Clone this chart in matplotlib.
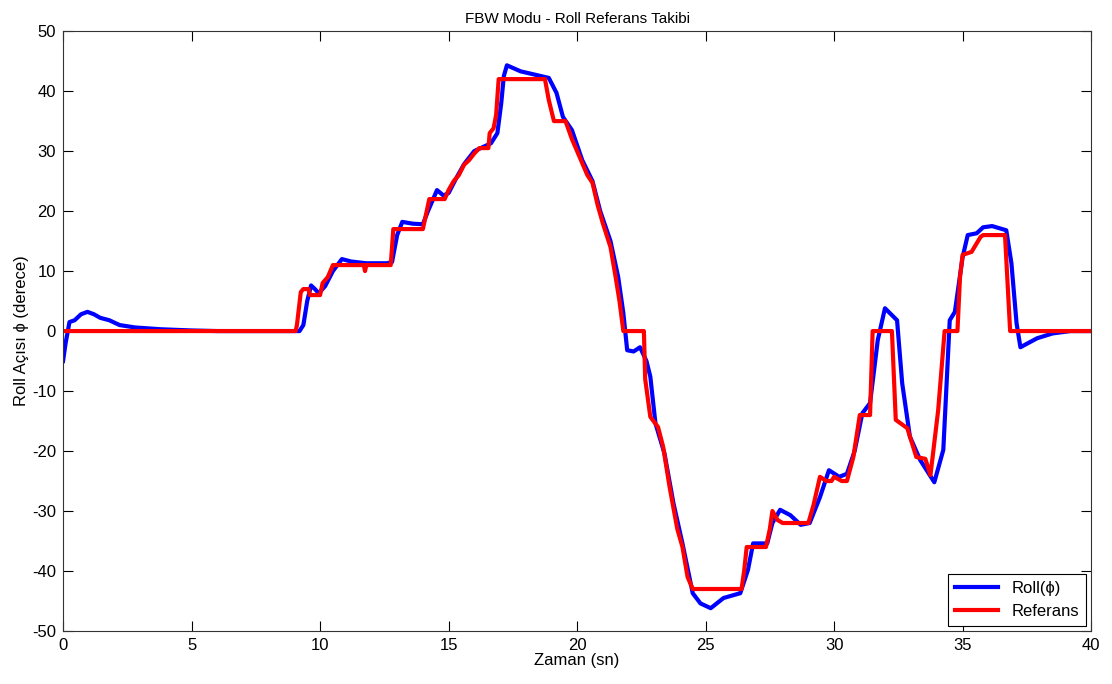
import matplotlib
matplotlib.use("Agg")
import matplotlib.pyplot as plt

plt.rcParams['font.family'] = ['Liberation Sans', 'DejaVu Sans']
plt.rcParams['font.size'] = 11
plt.rcParams['axes.unicode_minus'] = False

# referans (red) step signal
ref_t = [0, 9.05, 9.1, 9.25, 9.35, 9.55, 9.6, 10.0, 10.1, 10.3, 10.5, 11.7, 11.75, 11.8,
         12.75, 12.85, 14.0, 14.1, 14.25, 14.85, 15.0, 15.2, 15.4, 15.6, 15.8, 16.0, 16.2,
         16.55, 16.6, 16.75, 16.85, 16.95, 18.75, 18.9, 19.1, 19.55, 19.8, 20.0, 20.2, 20.4,
         20.6, 20.8, 21.0, 21.3, 21.5, 21.65, 21.8, 22.6, 22.65, 22.85, 23.15, 23.35, 23.6,
         23.9, 24.1, 24.3, 24.5, 26.4, 26.5, 26.6, 27.35, 27.5, 27.6, 27.8, 28.0, 29.0, 29.2,
         29.45, 29.7, 29.9, 30.0, 30.3, 30.5, 30.75, 31.0, 31.4, 31.5, 32.25, 32.4, 32.85,
         33.2, 33.55, 33.75, 34.05, 34.3, 34.8, 34.9, 35.0, 35.35, 35.7, 35.8, 36.65, 36.85, 40]
ref_y = [0, 0, 1, 6.5, 7, 7, 6, 6, 8, 9, 11, 11, 10, 11,
         11, 17, 17, 19, 22, 22, 23.5, 25, 26, 27.7, 28.5, 29.6, 30.5,
         30.5, 33, 33.8, 36, 42, 42, 38.5, 35, 35, 32, 30, 28, 26,
         24.7, 21, 18, 14, 9, 5, 0, 0, -8, -14.3, -16, -19.3, -26,
         -33, -36, -41, -43, -43, -40, -36, -36, -33, -30, -31.5, -32, -32, -29,
         -24.3, -25, -25, -24.3, -25, -25, -21, -14, -14, 0, 0, -14.8, -16.2,
         -21, -21.3, -24, -13.2, 0, 0, 9, 12.7, 13.2, 15.7, 16, 16, 0, 0]

# roll response (blue)
roll_t = [0, 0.1, 0.25, 0.45, 0.7, 0.95, 1.2, 1.45, 1.8, 2.2, 2.8, 3.8, 5, 6, 7, 8, 9.2,
          9.35, 9.5, 9.65, 9.8, 9.95, 10.2, 10.5, 10.85, 11.2, 11.8, 12.6, 12.8, 13.0, 13.2,
          13.6, 14.0, 14.2, 14.55, 14.8, 15.0, 15.3, 15.6, 16.0, 16.35, 16.65, 16.9, 17.05,
          17.15, 17.27, 17.8, 18.4, 18.9, 19.2, 19.45, 19.8, 20.2, 20.6, 20.9, 21.3, 21.6,
          21.8, 21.95, 22.2, 22.45, 22.7, 22.85, 23.05, 23.4, 23.75, 24.1, 24.5, 24.8, 25.2,
          25.7, 26.35, 26.65, 26.85, 27.4, 27.6, 27.9, 28.3, 28.7, 29.05, 29.45, 29.8, 30.2,
          30.5, 30.8, 31.1, 31.4, 31.7, 31.98, 32.45, 32.65, 32.95, 33.35, 33.9, 34.25, 34.5,
          34.7, 35.0, 35.2, 35.55, 35.8, 36.15, 36.7, 36.9, 37.1, 37.25, 37.9, 38.5, 39.2, 40]
roll_y = [-5, -2, 1.5, 1.8, 2.8, 3.2, 2.8, 2.2, 1.8, 1.0, 0.6, 0.3, 0.1, 0, 0, 0, 0,
          1, 5, 7.6, 7, 6.3, 7.5, 10, 12, 11.6, 11.3, 11.3, 11.5, 16, 18.2,
          17.9, 17.8, 20, 23.5, 22.6, 23, 25.5, 27.8, 30, 30.7, 31.3, 33, 38,
          42.5, 44.3, 43.3, 42.7, 42.2, 39.7, 35.7, 33.5, 28.5, 25, 20, 15, 9,
          3, -3.2, -3.4, -2.7, -5, -7.6, -15.4, -20.4, -28.7, -35.4, -43.7, -45.4, -46.2,
          -44.5, -43.7, -39.8, -35.4, -35.4, -32, -29.8, -30.7, -32.3, -32, -27.7, -23.2, -24.3,
          -23.8, -20, -13.7, -12, -1.5, 3.8, 1.8, -8.7, -17.6, -21.5, -25.2, -19.8, 1.8,
          3.2, 12.3, 16, 16.3, 17.3, 17.5, 16.8, 11.3, 1.3, -2.7, -1.2, -0.4, 0, 0]

fig = plt.figure(figsize=(11.12, 6.84), dpi=100)
ax = fig.add_axes([0.0567, 0.0775, 0.9245, 0.877])

ax.plot(roll_t, roll_y, color=(0, 0, 1), lw=3, label='Roll(ϕ)')
ax.plot(ref_t, ref_y, color=(1, 0, 0), lw=3, label='Referans')

ax.set_xlim(0, 40)
ax.set_ylim(-50, 50)
ax.set_xticks(range(0, 41, 5))
ax.set_yticks(range(-50, 51, 10))
ax.tick_params(direction='in', top=True, right=True, length=7, width=0.8,
               labelsize=12, pad=5)
for s in ax.spines.values():
    s.set_linewidth(0.8)
    s.set_color('#333333')

ax.set_title('FBW Modu - Roll Referans Takibi', fontsize=11, pad=6)
ax.set_xlabel('Zaman (sn)', fontsize=12, labelpad=0)
ax.set_ylabel('Roll Açısı ϕ (derece)', fontsize=12, labelpad=2)

leg = ax.legend(loc='lower right', fancybox=False, framealpha=1, edgecolor='black',
                borderaxespad=0.3, handlelength=2.6, fontsize=12)
leg.get_frame().set_linewidth(0.8)

fig.savefig('out.png', dpi=100)
